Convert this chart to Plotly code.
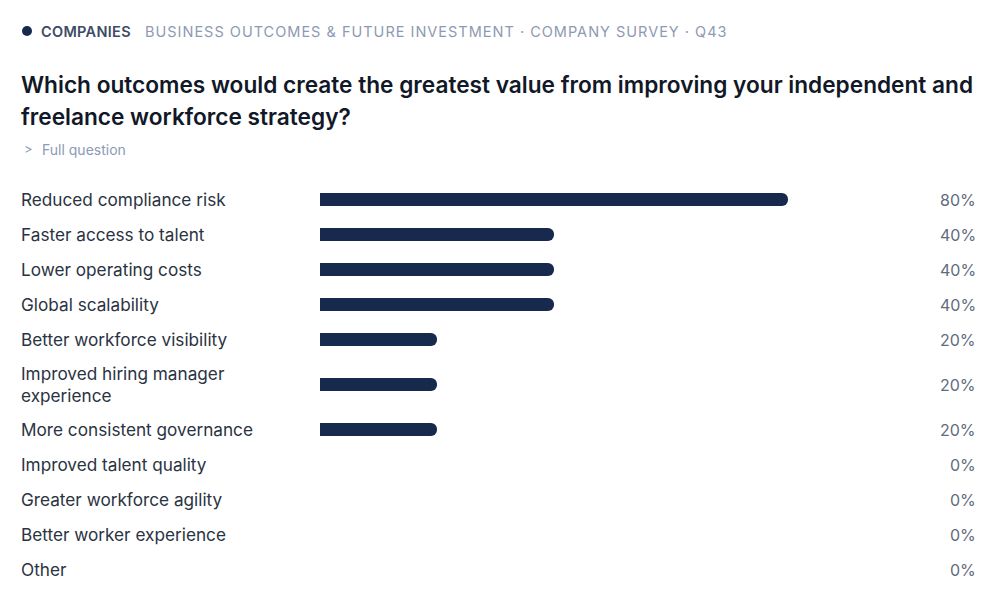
import plotly.graph_objects as go

categories = [
    "Reduced compliance risk",
    "Faster access to talent",
    "Lower operating costs",
    "Global scalability",
    "Better workforce visibility",
    "Improved hiring manager<br>experience",
    "More consistent governance",
    "Improved talent quality",
    "Greater workforce agility",
    "Better worker experience",
    "Other",
]
values = [80, 40, 40, 40, 20, 20, 20, 0, 0, 0, 0]
value_labels = [f"{v}%" for v in values]

eyebrow = "COMPANIES"
breadcrumb = "BUSINESS OUTCOMES & FUTURE INVESTMENT · COMPANY SURVEY · Q43"
title_lines = [
    "Which outcomes would create the greatest value from improving your independent and",
    "freelance workforce strategy?",
]
subtitle = "Full question"

W, H = 1000, 592
FONT = "Inter"
NAVY = "#172a4e"

# row layout: base row height + extra per additional label line
base_row, extra_line = 35, 20
heights = [base_row + extra_line * (c.count("<br>")) for c in categories]
centers = []
acc = 0
for h in heights:
    centers.append(acc + h / 2)
    acc += h
total = acc
top_px = 182
dom_top = 1 - top_px / H
dom_bot = 1 - (top_px + total) / H

fig = go.Figure(
    go.Bar(
        x=values,
        y=centers,
        orientation="h",
        width=13,
        marker=dict(color=NAVY, line=dict(width=0)),
        hoverinfo="skip",
    )
)

ann = []
for c, y, t in zip(categories, centers, value_labels):
    ann.append(dict(x=0.0185, y=y, xref="paper", yref="y", text=c, showarrow=False,
                    xanchor="left", yanchor="middle", align="left",
                    font=dict(family=FONT, size=17.2, color="#2a3342")))
    ann.append(dict(x=0.9775, y=y, xref="paper", yref="y", text=t, showarrow=False,
                    xanchor="right", yanchor="middle",
                    font=dict(family=FONT, size=16, color="#5f6b7e")))

# header
ann.append(dict(x=0.039, y=1 - 31 / H, xref="paper", yref="paper",
                text=eyebrow, showarrow=False, xanchor="left", yanchor="middle",
                font=dict(family=FONT, size=14.5, weight=600, color="#3e4b66")))
ann.append(dict(x=0.143, y=1 - 31 / H, xref="paper", yref="paper",
                text=breadcrumb, showarrow=False, xanchor="left", yanchor="middle",
                font=dict(family=FONT, size=14.5, color="#8d9ab3")))
for i, line in enumerate(title_lines):
    ann.append(dict(x=0.019, y=1 - (84 + 33 * i) / H, xref="paper", yref="paper",
                    text=line, showarrow=False, xanchor="left", yanchor="middle",
                    align="left", font=dict(family=FONT, size=22.65, weight=600, color="#111827")))
ann.append(dict(x=0.022, y=1 - 149 / H, xref="paper", yref="paper",
                text="&gt;", showarrow=False, xanchor="left", yanchor="middle",
                font=dict(family=FONT, size=13, color="#8d9ab3")))
ann.append(dict(x=0.040, y=1 - 149 / H, xref="paper", yref="paper",
                text=subtitle, showarrow=False, xanchor="left", yanchor="middle",
                font=dict(family=FONT, size=14, color="#8d9ab3")))

fig.update_layout(
    width=W, height=H,
    margin=dict(l=0, r=0, t=0, b=0),
    paper_bgcolor="white", plot_bgcolor="white",
    barcornerradius=6,
    showlegend=False,
    xaxis=dict(domain=[0.32, 0.905], range=[0, 100], visible=False, fixedrange=True),
    yaxis=dict(domain=[dom_bot, dom_top], range=[total, 0], visible=False, fixedrange=True),
    annotations=ann,
    shapes=[dict(type="circle", xref="paper", yref="paper",
                 x0=22 / W, x1=32 / W, y0=1 - 36 / H, y1=1 - 26 / H,
                 fillcolor=NAVY, line=dict(width=0))],
)

post = """
document.body.style.margin = '0';
document.body.style.overflow = 'hidden';
function spaced(el, ls) {
  var bb = el.getBBox();
  el.setAttribute('text-anchor', 'start');
  el.setAttribute('x', bb.x);
  el.style.letterSpacing = ls;
}
document.querySelectorAll('.annotation-text').forEach(function (el) {
  var t = el.textContent;
  if (t.indexOf('BUSINESS OUTCOMES') === 0) { spaced(el, '1px'); }
  if (t === 'COMPANIES') { spaced(el, '0.3px'); }
});
"""
fig.write_html("out.html", config={"displayModeBar": False}, post_script=post)
